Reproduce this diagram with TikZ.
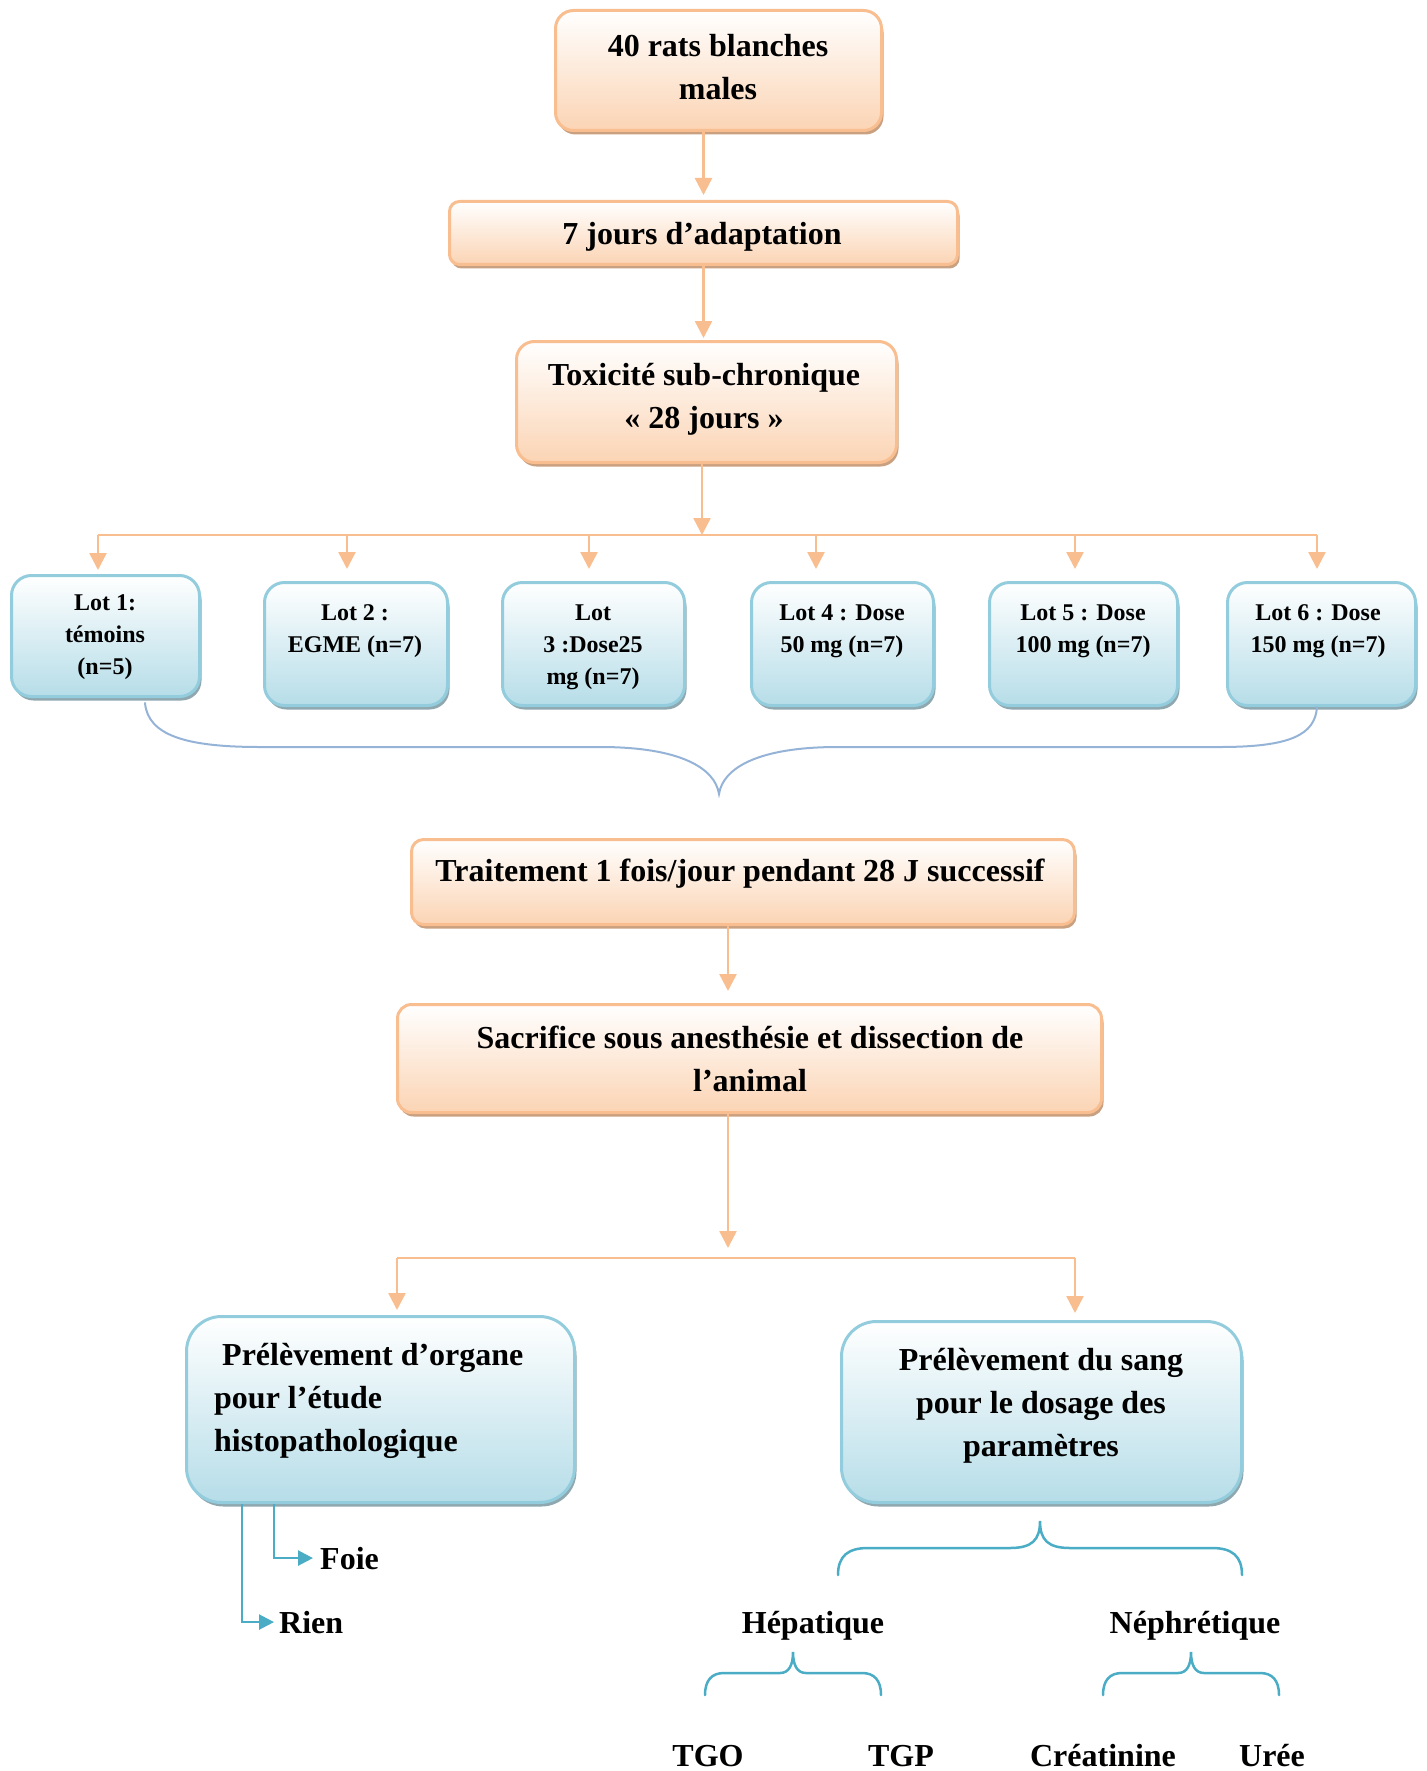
\documentclass[tikz,border=0pt]{standalone}
\usepackage{fontspec}
\setmainfont{Liberation Serif}
\usetikzlibrary{arrows.meta,shadows}
\definecolor{orline}{HTML}{F9BE8F}
\definecolor{orfill}{HTML}{FBD4B4}
\definecolor{orshadow}{HTML}{C9A080}
\definecolor{blline}{HTML}{93CDDD}
\definecolor{blfill}{HTML}{B6DDE8}
\definecolor{blshadow}{HTML}{8FA8B0}
\definecolor{braceA}{HTML}{95B3D7}
\definecolor{braceB}{HTML}{4BACC6}
\begin{document}
\begin{tikzpicture}[x=1pt,y=-1pt,
  orbox/.style={draw=orline, line width=3pt, rounded corners=18pt, top color=white, bottom color=orfill,
    drop shadow={fill=orshadow, opacity=1, shadow xshift=2pt, shadow yshift=-4pt}, inner sep=0pt},
  blbox/.style={draw=blline, line width=3pt, rounded corners=20pt, top color=white, bottom color=blfill,
    drop shadow={fill=blshadow, opacity=1, shadow xshift=2pt, shadow yshift=-4pt}, inner sep=0pt},
  txt/.style={font=\fontsize{32}{43}\selectfont\bfseries, align=center, inner sep=0pt},
  lottxt/.style={font=\fontsize{24}{32}\selectfont\bfseries, align=center, inner sep=0pt},
  conn/.style={draw=orline, line width=2.5pt},
  arr/.style={conn, -{Triangle[length=17pt,width=17pt]}},
  barr/.style={draw=braceB, line width=2.5pt, -{Triangle[length=15pt,width=15pt]}},
  braceline/.style={line width=2pt, line cap=round},
]
\useasboundingbox (0,0) rectangle (1426,1771);

% top chain
\node[orbox, minimum width=326pt, minimum height=120pt] (b1) at (718.5,70.5) {};
\node[txt] (t1) at (718,67.5) {40 rats blanches\\males};
\node[orbox, rounded corners=10pt, minimum width=508pt, minimum height=63pt] (b2) at (703.5,233) {};
\node[txt, anchor=base] (t2) at (702,244) {7 jours d’adaptation};
\node[orbox, minimum width=380pt, minimum height=121pt] (b3) at (706.5,402) {};
\node[txt] (t3) at (704,399) {Toxicité sub-chronique\\« 28 jours »};

\draw[arr, shorten >=5pt] (b1.south -| b2.north) -- (b2.north);
\draw[arr, shorten >=2pt] (b2.south) -- (b3.north -| b2.south);

% distribution line
\coordinate (hl) at (702,535);
\coordinate (d1) at (98,535);
\coordinate (d2) at (347,535);
\coordinate (d3) at (589,535);
\coordinate (d4) at (816,535);
\coordinate (d5) at (1075,535);
\coordinate (d6) at (1317,535);
\draw[arr] (b3.south -| hl) -- (hl);
\draw[conn] (d1) -- (d6);

% lots
\node[blbox, minimum width=188pt, minimum height=121pt] (lot1) at (105.5,636) {};
\node[blbox, minimum width=183pt, minimum height=123pt] (lot2) at (356,644) {};
\node[blbox, minimum width=182pt, minimum height=123pt] (lot3) at (593.5,644) {};
\node[blbox, minimum width=182pt, minimum height=123pt] (lot4) at (842.5,644) {};
\node[blbox, minimum width=188pt, minimum height=123pt] (lot5) at (1083.5,644) {};
\node[blbox, minimum width=188pt, minimum height=123pt] (lot6) at (1321.5,644) {};
\node[lottxt] (l1) at (105,637) {Lot 1:\\témoins\\(n=5)};
\node[lottxt] (l2) at (355,631) {Lot 2 :\\EGME (n=7)};
\node[lottxt] (l3) at (593,647) {Lot\\3 :Dose25\\mg (n=7)};
\node[lottxt] (l4) at (842,631) {Lot 4 : Dose\\50 mg (n=7)};
\node[lottxt] (l5) at (1083,631) {Lot 5 : Dose\\100 mg (n=7)};
\node[lottxt] (l6) at (1318,631) {Lot 6 : Dose\\150 mg (n=7)};

\draw[arr, shorten >=4pt] (d1) -- (d1 |- lot1.north);
\draw[arr, shorten >=12pt] (d2) -- (d2 |- lot2.north);
\draw[arr, shorten >=12pt] (d3) -- (d3 |- lot3.north);
\draw[arr, shorten >=12pt] (d4) -- (d4 |- lot4.north);
\draw[arr, shorten >=12pt] (d5) -- (d5 |- lot5.north);
\draw[arr, shorten >=12pt] (d6) -- (d6 |- lot6.north);

% big brace
\draw[braceA, braceline] (145,703) .. controls (148,735) and (185,747) .. (260,747)
  -- (600,747) .. controls (680,747) and (715,768) .. (719,794)
  .. controls (723,768) and (758,747) .. (838,747)
  -- (1220,747) .. controls (1290,747) and (1315,735) .. (1317,707);

% treatment & sacrifice
\node[orbox, rounded corners=12pt, minimum width=663pt, minimum height=85pt] (b4) at (743,882) {};
\node[txt, anchor=base] (t4) at (740,881) {Traitement 1 fois/jour pendant 28 J successif};
\node[orbox, rounded corners=14pt, minimum width=704pt, minimum height=108pt] (b5) at (749.5,1058.5) {};
\node[txt] (t5) at (750,1058.5) {Sacrifice sous anesthésie et dissection de\\l’animal};

\coordinate (k1) at (728,0);
\draw[arr, shorten >=12pt] (b4.south -| k1) -- (b5.north -| k1);
\coordinate (h2) at (728,1258);
\coordinate (h2L) at (397,1258);
\coordinate (h2R) at (1075,1258);
\draw[arr, shorten >=10pt] (b5.south -| k1) -- (h2);
\draw[conn] (h2L) -- (h2R);

% sampling boxes
\node[blbox, rounded corners=35pt, minimum width=388pt, minimum height=186pt] (b6) at (380.5,1409.5) {};
\node[txt, align=left, anchor=west] (t6) at (214,1400.5) {\hspace{8pt}Prélèvement d’organe\\pour l’étude\\histopathologique};
\node[blbox, rounded corners=35pt, minimum width=400pt, minimum height=181pt] (b7) at (1041.5,1412) {};
\node[txt] (t7) at (1041,1405.5) {Prélèvement du sang\\pour le dosage des\\paramètres};

\draw[arr, shorten >=5pt] (h2L) -- (h2L |- b6.north);
\draw[arr, shorten >=7pt] (h2R) -- (h2R |- b7.north);

% organ outputs
\node[txt, anchor=base west] (foie) at (320,1569) {Foie};
\node[txt, anchor=base west] (rien) at (279,1633) {Rien};
\coordinate (f1) at (274,0);
\coordinate (r1) at (242,0);
\draw[barr, shorten >=7pt] (b6.south -| f1) |- (foie.west);
\draw[barr, shorten >=5pt] (b6.south -| r1) |- (rien.west);

% blood parameter braces
\draw[braceB, braceline, line width=2.5pt] (838,1575) .. controls (838,1556) and (848,1548) .. (868,1548)
  -- (1010,1548) .. controls (1032,1548) and (1040,1540) .. (1040,1521)
  .. controls (1040,1540) and (1048,1548) .. (1070,1548)
  -- (1212,1548) .. controls (1232,1548) and (1242,1556) .. (1242,1575);
\node[txt, anchor=base] (hep) at (813,1633) {Hépatique};
\node[txt, anchor=base] (nep) at (1195,1633) {Néphrétique};

\draw[braceB, braceline, line width=2.5pt] (705,1695) .. controls (705,1680) and (712,1673) .. (724,1673)
  -- (780,1673) .. controls (789,1673) and (793,1665) .. (793,1652)
  .. controls (793,1665) and (797,1673) .. (806,1673)
  -- (862,1673) .. controls (874,1673) and (881,1680) .. (881,1695);
\draw[braceB, braceline, line width=2.5pt] (1103,1695) .. controls (1103,1680) and (1110,1673) .. (1122,1673)
  -- (1178,1673) .. controls (1187,1673) and (1191,1665) .. (1191,1652)
  .. controls (1191,1665) and (1195,1673) .. (1204,1673)
  -- (1260,1673) .. controls (1272,1673) and (1279,1680) .. (1279,1695);

\node[txt, anchor=base] (tgo) at (708,1766) {TGO};
\node[txt, anchor=base] (tgp) at (901,1766) {TGP};
\node[txt, anchor=base] (crea) at (1103,1766) {Créatinine};
\node[txt, anchor=base] (uree) at (1272,1766) {Urée};
\end{tikzpicture}
\end{document}
